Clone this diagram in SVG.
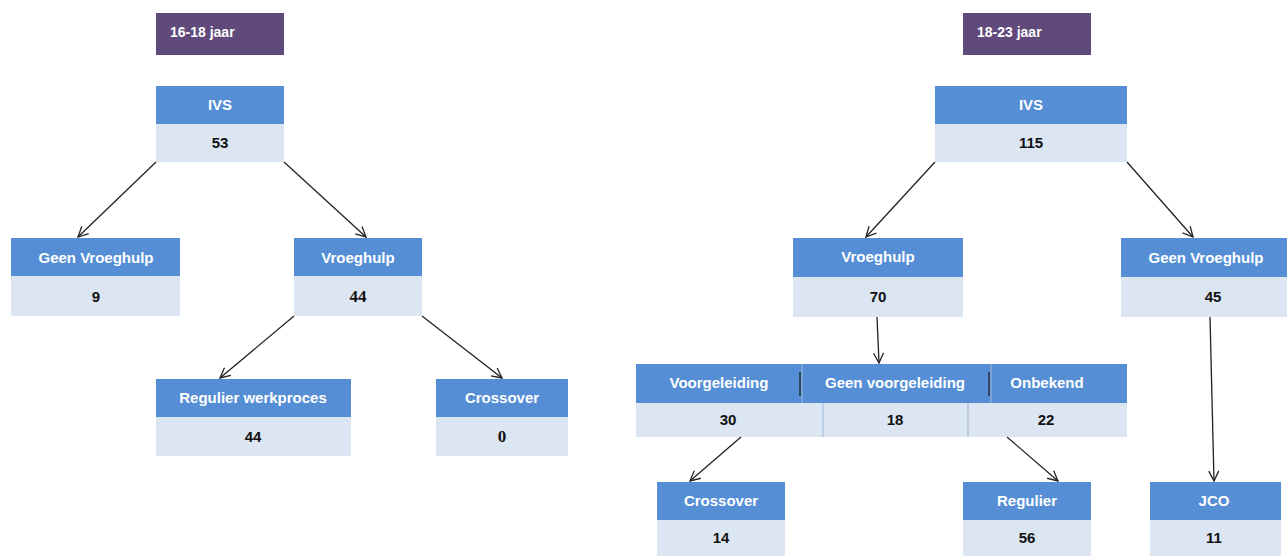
<svg xmlns="http://www.w3.org/2000/svg" width="1287" height="556" viewBox="0 0 1287 556">
<style>
.age{fill:#604A7B}
.hd{fill:#558ED5}
.bd{fill:#DCE6F2}
.ht{font-family:"Liberation Sans",Arial,sans-serif;font-weight:bold;font-size:15px;fill:#fff;text-anchor:middle;dominant-baseline:central}
.at{font-family:"Liberation Sans",Arial,sans-serif;font-weight:bold;font-size:14px;fill:#fff;dominant-baseline:central}
.nt{font-family:"Liberation Sans",Arial,sans-serif;font-weight:bold;font-size:15px;fill:#111;text-anchor:middle;dominant-baseline:central}
.ns{font-family:"Liberation Serif","Times New Roman",serif;font-weight:bold;font-size:17px;fill:#111;text-anchor:middle;dominant-baseline:central}
.cn{stroke:#222;stroke-width:1.3;fill:none;marker-end:url(#ah)}
.dv{stroke:#9DB6D9;stroke-width:1}
.dd{stroke:#2F4868;stroke-width:2}
</style>
<defs>
<marker id="ah" viewBox="0 0 12 12" refX="11" refY="6" markerWidth="12" markerHeight="12" markerUnits="userSpaceOnUse" orient="auto">
<path d="M1,1 L11,6 L1,11" fill="none" stroke="#222" stroke-width="1.3"/>
</marker>
</defs>

<g id="age1618"><rect class="age" x="156" y="13" width="128" height="42"/><text class="at" x="170" y="32">16-18 jaar</text></g>
<g id="age1823"><rect class="age" x="963" y="13" width="128" height="42"/><text class="at" x="977" y="32">18-23 jaar</text></g>

<g id="ivs-left"><rect class="hd" x="156" y="86" width="128" height="38"/><rect class="bd" x="156" y="124" width="128" height="38"/><text class="ht" x="220" y="104">IVS</text><text class="nt" x="220" y="142">53</text></g>
<g id="geen-left"><rect class="hd" x="11" y="238" width="169" height="38"/><rect class="bd" x="11" y="276" width="169" height="40"/><text class="ht" x="96" y="257">Geen Vroeghulp</text><text class="nt" x="96" y="296">9</text></g>
<g id="vroeg-left"><rect class="hd" x="294" y="238" width="128" height="38"/><rect class="bd" x="294" y="276" width="128" height="40"/><text class="ht" x="358" y="257">Vroeghulp</text><text class="ns" x="358" y="296">44</text></g>
<g id="regulier-werk"><rect class="hd" x="156" y="379" width="195" height="38"/><rect class="bd" x="156" y="417" width="195" height="39"/><text class="ht" x="253" y="397">Regulier werkproces</text><text class="nt" x="253" y="436">44</text></g>
<g id="crossover-left"><rect class="hd" x="436" y="379" width="132" height="38"/><rect class="bd" x="436" y="417" width="132" height="39"/><text class="ht" x="502" y="397">Crossover</text><text class="ns" x="502" y="436">0</text></g>

<g id="ivs-right"><rect class="hd" x="935" y="86" width="192" height="38"/><rect class="bd" x="935" y="124" width="192" height="38"/><text class="ht" x="1031" y="104">IVS</text><text class="nt" x="1031" y="142">115</text></g>
<g id="vroeg-right"><rect class="hd" x="793" y="238" width="170" height="39"/><rect class="bd" x="793" y="277" width="170" height="40"/><text class="ht" x="878" y="256">Vroeghulp</text><text class="nt" x="878" y="296">70</text></g>
<g id="geen-right"><rect class="hd" x="1121" y="238" width="166" height="39"/><rect class="bd" x="1121" y="277" width="166" height="40"/><text class="ht" x="1206" y="257">Geen Vroeghulp</text><text class="nt" x="1213" y="296">45</text></g>
<g id="voorgeleiding"><rect class="hd" x="636" y="364" width="491" height="39"/><rect class="bd" x="636" y="403" width="491" height="34"/>
<line class="dv" x1="802" y1="364" x2="802" y2="403"/><line class="dv" x1="991" y1="364" x2="991" y2="403"/>
<line class="dd" x1="800" y1="372" x2="800" y2="396"/><line class="dd" x1="989" y1="372" x2="989" y2="396"/>
<line class="dv" x1="823" y1="403" x2="823" y2="437" stroke="#C9D6E8"/><line class="dv" x1="968" y1="403" x2="968" y2="437" stroke="#C9D6E8"/>
<text class="ht" x="719" y="382">Voorgeleiding</text><text class="ht" x="895" y="382">Geen voorgeleiding</text><text class="ht" x="1047" y="382">Onbekend</text>
<text class="nt" x="728" y="419">30</text><text class="nt" x="895" y="419">18</text><text class="nt" x="1046" y="419">22</text></g>
<g id="crossover-right"><rect class="hd" x="657" y="482" width="128" height="38"/><rect class="bd" x="657" y="520" width="128" height="36"/><text class="ht" x="721" y="500">Crossover</text><text class="nt" x="721" y="537">14</text></g>
<g id="regulier-right"><rect class="hd" x="963" y="482" width="128" height="38"/><rect class="bd" x="963" y="520" width="128" height="36"/><text class="ht" x="1027" y="500">Regulier</text><text class="nt" x="1027" y="537">56</text></g>
<g id="jco"><rect class="hd" x="1150" y="482" width="131" height="38"/><rect class="bd" x="1150" y="520" width="131" height="36"/><text class="ht" x="1214" y="500">JCO</text><text class="nt" x="1214" y="537">11</text></g>

<g id="connectors">
<line class="cn" x1="156" y1="162" x2="78" y2="237"/>
<line class="cn" x1="284" y1="162" x2="366" y2="237"/>
<line class="cn" x1="294" y1="316" x2="220" y2="378"/>
<line class="cn" x1="422" y1="316" x2="502" y2="378"/>
<line class="cn" x1="935" y1="162" x2="866" y2="237"/>
<line class="cn" x1="1127" y1="162" x2="1193" y2="237"/>
<line class="cn" x1="877" y1="317" x2="879" y2="363"/>
<line class="cn" x1="741" y1="437" x2="690" y2="481"/>
<line class="cn" x1="1007" y1="437" x2="1058" y2="481"/>
<line class="cn" x1="1210" y1="317" x2="1214" y2="481"/>
</g>
</svg>
